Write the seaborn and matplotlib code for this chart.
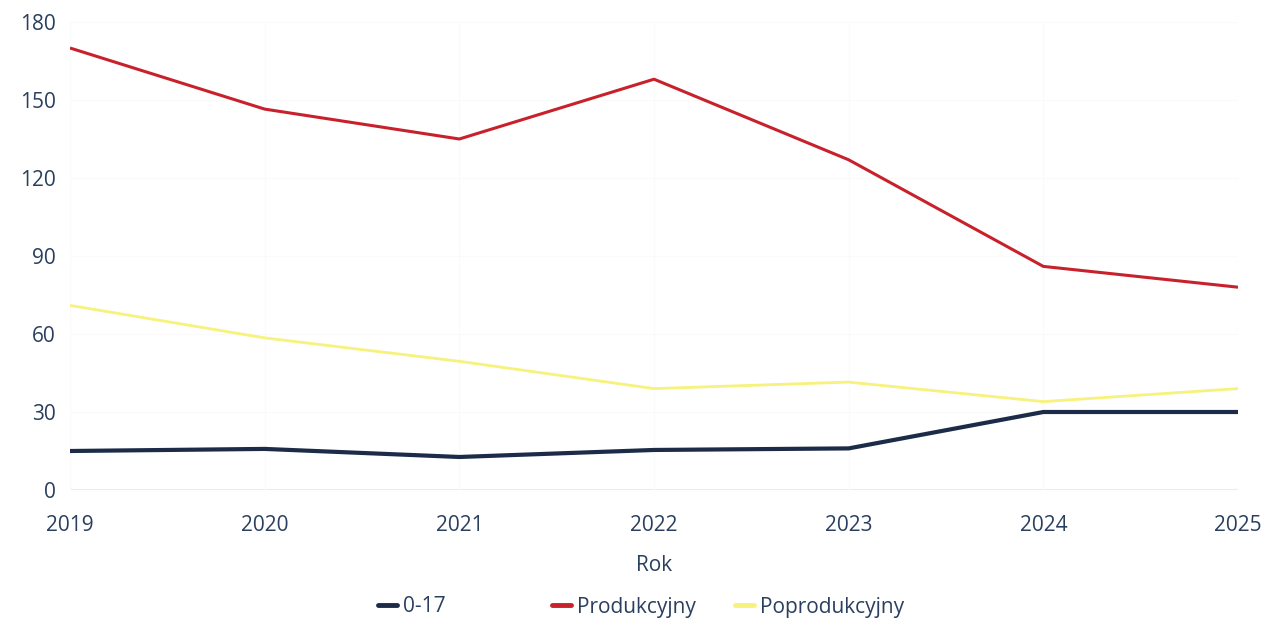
import pandas as pd
import matplotlib
matplotlib.use("Agg")
import matplotlib.pyplot as plt
import seaborn as sns
from matplotlib.lines import Line2D

# values
years = [2019, 2020, 2021, 2022, 2023, 2024, 2025]
grupa_0_17 = [15, 15.8, 12.7, 15.4, 16, 30, 30]
produkcyjny = [170, 146.5, 135, 158, 127, 86, 78]
poprodukcyjny = [71, 58.5, 49.5, 39, 41.5, 34, 39]
series_names = ["0-17", "Produkcyjny", "Poprodukcyjny"]
y_ticks = [0, 30, 60, 90, 120, 150, 180]

colors = {"0-17": "#1c2b48", "Produkcyjny": "#c8212b", "Poprodukcyjny": "#f6f27c"}
widths = {"0-17": 3.0, "Produkcyjny": 2.2, "Poprodukcyjny": 2.0}
text_color = "#2a3f5f"

df = pd.DataFrame({
    "Rok": years * 3,
    "value": grupa_0_17 + produkcyjny + poprodukcyjny,
    "series": [s for s in series_names for _ in years],
})

sns.set_theme(style="white")
plt.rcParams["font.family"] = ["Open Sans", "DejaVu Sans"]

fig = plt.figure(figsize=(12.65, 6.27), dpi=100)
ax = fig.add_axes([70 / 1265, (627 - 490) / 627, (1238 - 70) / 1265, (490 - 22) / 627])

sns.lineplot(data=df, x="Rok", y="value", hue="series", hue_order=series_names,
             palette=colors, ax=ax, legend=False)
for line, name in zip(ax.get_lines(), series_names):
    line.set_linewidth(widths[name])
    line.set_solid_capstyle("butt")

ax.set_xlim(years[0], years[-1])
ax.set_ylim(0, 180)
ax.set_yticks(y_ticks)
ax.set_xticks(years)
ax.grid(True, color="#fafafa", linewidth=1)
ax.axhline(0, color="#e8e8e8", linewidth=1.5, zorder=0)
for s in ax.spines.values():
    s.set_visible(False)
ax.tick_params(axis="both", length=0, labelsize=15, labelcolor=text_color)
ax.tick_params(axis="y", pad=10)
ax.tick_params(axis="x", pad=18)
ax.set_ylabel("")
ax.set_xlabel("Rok", fontsize=15, color=text_color, labelpad=14)

# legend entries placed like the reference (fixed-width items)
legend_x = [378, 552, 735]
for name, x in zip(series_names, legend_x):
    h = Line2D([], [], color=colors[name], linewidth=3.5)
    fig.legend(handles=[h], labels=[name], loc="center left",
               bbox_to_anchor=(x / 1265, 1 - 607 / 627), frameon=False,
               handlelength=0.9, handletextpad=0.3, fontsize=15,
               labelcolor=text_color, borderpad=0, borderaxespad=0)

fig.savefig("out.png", dpi=100, facecolor="white")
